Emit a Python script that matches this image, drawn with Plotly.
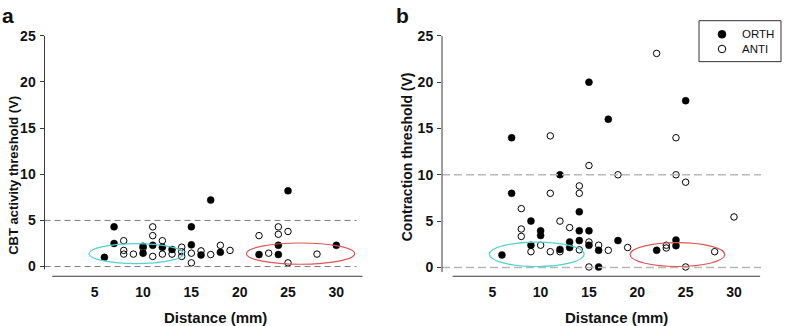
import plotly.graph_objects as go

# ---------------- data ----------------
# Panel a: CBT activity threshold (V) vs distance (mm)
a_orth_x = [6, 7, 7, 10, 10, 11, 12, 13, 15, 15, 16, 17, 18, 22, 24, 24, 25, 30]
a_orth_y = [1.0, 4.3, 2.5, 2.2, 1.45, 2.3, 2.1, 1.85, 4.3, 2.35, 1.25, 7.2, 1.55, 1.3, 2.3, 1.3, 8.2, 2.3]
a_anti_x = [8, 8, 8, 9, 10, 11, 11, 11, 12, 12, 13, 14, 14, 14, 15, 15, 16, 17, 18, 19, 22, 23, 24, 24, 25, 25, 28]
a_anti_y = [2.8, 1.75, 1.35, 1.35, 2.0, 4.3, 3.35, 1.1, 2.8, 1.35, 1.35, 2.1, 1.6, 1.1, 1.45, 0.4, 1.7, 1.3, 2.3, 1.75,
            3.35, 1.45, 4.3, 3.5, 3.8, 0.4, 1.35]

# Panel b: Contraction threshold (V) vs distance (mm)
b_orth_x = [6, 7, 7, 9, 9, 10, 10, 12, 12, 13, 13, 14, 14, 14, 15, 15, 15, 16, 16, 17, 18, 22, 24, 24, 25]
b_orth_y = [1.35, 14.0, 8.0, 5.0, 2.4, 3.95, 3.45, 10.0, 1.95, 2.75, 2.15, 6.0, 3.95, 2.9, 20.0, 3.95, 2.4, 1.85,
            0.05, 16.0, 2.9, 1.85, 2.95, 2.35, 18.0]
b_anti_x = [8, 8, 8, 9, 10, 11, 11, 11, 12, 12, 13, 14, 14, 14, 15, 15, 15, 16, 17, 18, 19, 22, 23, 23, 24, 24, 25,
            25, 28, 30]
b_anti_y = [6.35, 4.15, 3.35, 1.7, 2.4, 14.2, 8.0, 1.7, 5.0, 1.7, 4.3, 8.8, 8.0, 1.9, 11.0, 2.75, 0.05, 2.4, 1.85,
            10.0, 2.15, 23.1, 2.4, 2.1, 14.0, 10.0, 9.2, 0.05, 1.7, 5.45]

x_ticks = [5, 10, 15, 20, 25, 30]
y_ticks = [0, 5, 10, 15, 20, 25]
a_ref_lines = [0, 5]
b_ref_lines = [0, 10]
legend_labels = ["ORTH", "ANTI"]

# highlighted groups (ellipses): (x_center, y_center, x_half, y_half)
a_near = (9.3, 1.4, 4.9, 1.08)
a_far = (26.3, 1.4, 5.6, 1.15)
b_near = (9.6, 1.42, 4.9, 1.32)
b_far = (24.15, 1.39, 4.9, 1.29)

FONT = "Liberation Sans, Arial, sans-serif"
W, H = 787, 326

fig = go.Figure()

ORTH_MARK = dict(symbol="circle", size=7, color="black", line=dict(color="black", width=0.5))
ANTI_MARK = dict(symbol="circle-open", size=6.5, color="black", line=dict(color="black", width=1))


def add_panel(xa, ya, ox, oy, ax, ay):
    fig.add_trace(go.Scatter(x=ox, y=oy, mode="markers", name=legend_labels[0], xaxis=xa, yaxis=ya,
                             showlegend=False, marker=ORTH_MARK))
    fig.add_trace(go.Scatter(x=ax, y=ay, mode="markers", name=legend_labels[1], xaxis=xa, yaxis=ya,
                             showlegend=False, marker=ANTI_MARK))


add_panel("x", "y", a_orth_x, a_orth_y, a_anti_x, a_anti_y)
add_panel("x2", "y2", b_orth_x, b_orth_y, b_anti_x, b_anti_y)

# legend key symbols drawn on a pixel-space overlay axis (transparent)
LEG_X, LEG_Y0, LEG_DY = 722, 27, 15
fig.add_trace(go.Scatter(x=[LEG_X], y=[LEG_Y0], mode="markers", xaxis="x3", yaxis="y3", showlegend=False,
                         hoverinfo="skip", marker=dict(ORTH_MARK, size=8)))
fig.add_trace(go.Scatter(x=[LEG_X], y=[LEG_Y0 + LEG_DY], mode="markers", xaxis="x3", yaxis="y3",
                         showlegend=False, hoverinfo="skip", marker=dict(ANTI_MARK, size=7.5)))

shapes = []
# reference dashed lines
for v in a_ref_lines:
    shapes.append(dict(type="line", xref="x", yref="y", x0=-0.2, x1=32.1, y0=v, y1=v,
                       line=dict(color="#7a7a7a", width=1, dash="6px,4px")))
for v in b_ref_lines:
    shapes.append(dict(type="line", xref="x2", yref="y2", x0=-0.2, x1=32.8, y0=v, y1=v,
                       line=dict(color="#b8b8b8", width=1.6, dash="8px,4px")))


def ell(xr, yr, e, col):
    cx, cy, hx, hy = e
    return dict(type="circle", xref=xr, yref=yr, x0=cx - hx, x1=cx + hx, y0=cy - hy, y1=cy + hy,
                line=dict(color=col, width=1.2))


CYAN = "#52d3d3"
RED = "#e05555"
shapes += [ell("x", "y", a_near, CYAN), ell("x", "y", a_far, RED),
           ell("x2", "y2", b_near, CYAN), ell("x2", "y2", b_far, RED)]

# axis lines (separated like the original)
AX = "#3a3a3a"
shapes += [
    dict(type="line", xref="x domain", yref="y", x0=0, x1=0, y0=-0.3, y1=25, line=dict(color=AX, width=1)),
    dict(type="line", xref="x", yref="y domain", x0=0.6, x1=32.7, y0=0, y1=0, line=dict(color=AX, width=1)),
    dict(type="line", xref="x2 domain", yref="y2", x0=0, x1=0, y0=-0.5, y1=25, line=dict(color=AX, width=1)),
    dict(type="line", xref="x2", yref="y2 domain", x0=0.9, x1=32.7, y0=0, y1=0, line=dict(color=AX, width=1)),
    # legend box
    dict(type="rect", xref="paper", yref="paper", x0=699 / W, x1=781 / W, y0=1 - 55 / H, y1=1 - 13 / H,
         line=dict(color="#333", width=1), fillcolor="rgba(0,0,0,0)"),
]

ydom = [1 - 275 / H, 1 - 28.5 / H]
tickfont = dict(family=FONT, size=14, color="#111", weight="bold")

xcommon = dict(range=[-0.2, 33], tickvals=x_ticks, ticks="", showline=False, showgrid=False, zeroline=False,
               tickfont=tickfont, ticklabelstandoff=6)
ycommon = dict(tickvals=y_ticks, ticks="outside", ticklen=4, tickcolor=AX, tickwidth=1, showline=False,
               showgrid=False, zeroline=False, tickfont=tickfont, ticklabelstandoff=1, domain=ydom)

bold = dict(family=FONT, color="#111", weight="bold")
annotations = [
    dict(text="a", x=0, y=1 + 6 / H, xref="paper", yref="paper", xanchor="left", yanchor="top", showarrow=False,
         font=dict(size=21, **bold)),
    dict(text="b", x=394 / W, y=1 + 6 / H, xref="paper", yref="paper", xanchor="left", yanchor="top",
         showarrow=False, font=dict(size=21, **bold)),
    dict(text="CBT activity threshold (V)", x=14 / W, y=1 - 172 / H, xref="paper", yref="paper", textangle=-90,
         xanchor="center", yanchor="middle", showarrow=False, font=dict(size=13, **bold)),
    dict(text="Contraction threshold (V)", x=407 / W, y=1 - 153 / H, xref="paper", yref="paper", textangle=-90,
         xanchor="center", yanchor="middle", showarrow=False, font=dict(size=14, **bold)),
    dict(text="Distance (mm)", x=215 / W, y=1 - 317 / H, xref="paper", yref="paper", showarrow=False,
         xanchor="center", yanchor="middle", font=dict(size=15, **bold)),
    dict(text="Distance (mm)", x=616 / W, y=1 - 317 / H, xref="paper", yref="paper", showarrow=False,
         xanchor="center", yanchor="middle", font=dict(size=15, **bold)),
]
for i, lab in enumerate(legend_labels):
    annotations.append(dict(text=lab, x=740 / W, y=1 - (LEG_Y0 + i * LEG_DY) / H, xref="paper", yref="paper",
                            xanchor="left", yanchor="middle", showarrow=False,
                            font=dict(family=FONT, size=11.5, color="#111")))

fig.update_layout(
    width=W, height=H, autosize=False,
    margin=dict(l=0, r=0, t=0, b=0),
    paper_bgcolor="white", plot_bgcolor="rgba(0,0,0,0)",
    xaxis=dict(domain=[44.5 / W, 365.3 / W], anchor="y", **xcommon),
    yaxis=dict(range=[-1.05, 25], anchor="x", **ycommon),
    xaxis2=dict(domain=[442 / W, 763 / W], anchor="y2", **xcommon),
    yaxis2=dict(range=[-0.95, 25], anchor="x2", **ycommon),
    xaxis3=dict(domain=[0, 1], range=[0, W], visible=False, anchor="y3", fixedrange=True),
    yaxis3=dict(domain=[0, 1], range=[H, 0], visible=False, anchor="x3", fixedrange=True),
    shapes=shapes,
    annotations=annotations,
    showlegend=False,
)

fig.write_html("out.html", config={"displayModeBar": False},
               post_script="document.body.style.margin='0';document.body.style.overflow='hidden';")
